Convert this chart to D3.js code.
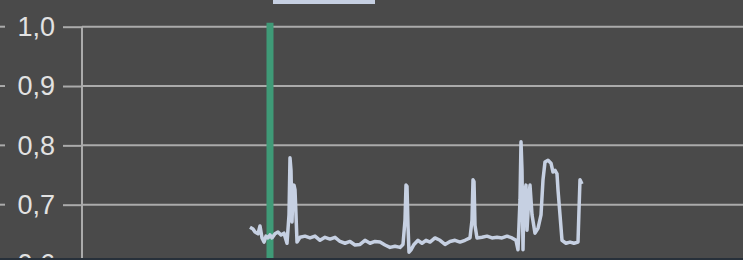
<!DOCTYPE html>
<html>
<head>
<meta charset="utf-8">
<script src="https://cdn.jsdelivr.net/npm/d3@7"></script>
<style>
    html, body { margin: 0; padding: 0; background: #4a4a4a; }
    svg { display: block; }
</style>
</head>
<body>
<svg id="chart" width="743" height="260"></svg>
<script>
// values (t = minutes, v = ratio)
var sample_t = [84, 85.5, 86.5, 88, 89, 90, 91, 92, 93, 94, 95, 96.5, 98, 99.5, 101, 102.5, 103.5, 104, 104.5, 105,
    105.5, 106, 106.5, 107, 107.5, 109, 111.5, 114, 116.5, 119, 121.5, 124, 126.5, 129, 131.5, 134, 136.5, 139, 141.5, 144,
    146.5, 149, 151.5, 154, 156.5, 159, 160.5, 161.5, 162, 162.5, 163, 163.5, 164.5, 166, 168, 170, 172, 174, 176.5, 179,
    181.5, 184, 186.5, 189, 191.5, 194, 195, 195.5, 196, 196.5, 197.5, 200, 202.5, 205, 207.5, 210, 212.5, 215, 217, 218,
    219, 219.5, 220, 220.5, 221, 222, 222.5, 223.5, 224, 225, 226.5, 228, 229.5, 230.5, 231.5, 233, 234.5, 235.5, 236.5, 237.5,
    238, 239, 240, 242, 244, 246, 248, 248.5, 249, 250];
var sample_v = [0.662, 0.659, 0.654, 0.651, 0.664, 0.644, 0.637, 0.647, 0.644, 0.649, 0.644, 0.651, 0.654, 0.649, 0.652, 0.635, 0.683, 0.779, 0.758, 0.671,
    0.725, 0.733, 0.725, 0.683, 0.637, 0.645, 0.647, 0.644, 0.647, 0.640, 0.645, 0.642, 0.645, 0.638, 0.635, 0.638, 0.632, 0.633, 0.640, 0.635,
    0.638, 0.637, 0.632, 0.628, 0.630, 0.628, 0.633, 0.674, 0.733, 0.731, 0.665, 0.620, 0.624, 0.633, 0.640, 0.635, 0.640, 0.637, 0.644, 0.640,
    0.633, 0.638, 0.640, 0.637, 0.640, 0.644, 0.674, 0.742, 0.739, 0.665, 0.644, 0.645, 0.647, 0.644, 0.645, 0.644, 0.647, 0.644, 0.640, 0.624,
    0.708, 0.806, 0.758, 0.624, 0.716, 0.733, 0.657, 0.716, 0.733, 0.683, 0.652, 0.660, 0.683, 0.742, 0.772, 0.775, 0.770, 0.755, 0.758, 0.752,
    0.725, 0.683, 0.640, 0.635, 0.637, 0.635, 0.637, 0.691, 0.742, 0.735];
var marker_t = 94;
var y_ticks = [0.6, 0.7, 0.8, 0.9, 1.0];

var line_color = "#c6d0e2", grid_color = "#ababab", text_color = "#e2e2e2";
var pad_left = 82, plot_top = 26.7;

var svg = d3.select("#chart");
var width = +svg.attr("width"), height = +svg.attr("height");

var x_scale = d3.scaleLinear().domain([0, 330]).range([pad_left, pad_left + 660]);
var y_scale = d3.scaleLinear().domain([0.5, 1.0]).range([plot_top + 593.3 * 0.5, plot_top]);
var fmt = d3.formatLocale({decimal: ",", thousands: ".", grouping: [3], currency: ["", " €"]}).format(".1f");

// legend swatch (mostly cut off at the top)
svg.append("rect")
    .attr("x", 273).attr("y", -20)
    .attr("width", 102).attr("height", 24)
    .attr("fill", line_color);

// horizontal grid
svg.append("g")
    .selectAll("line")
    .data(y_ticks)
    .enter().append("line")
    .attr("x1", pad_left).attr("x2", width)
    .attr("y1", function (d) { return y_scale(d); })
    .attr("y2", function (d) { return y_scale(d); })
    .attr("stroke", grid_color)
    .attr("stroke-width", 2);

// y axis
var y_axis = d3.axisLeft(y_scale).tickValues(y_ticks).tickFormat(fmt).tickSize(19).tickPadding(8);
var ax = svg.append("g")
    .attr("transform", "translate(" + pad_left + ",0)")
    .call(y_axis);
ax.select(".domain").remove();
ax.append("line")
    .attr("x1", 0).attr("x2", 0)
    .attr("y1", plot_top).attr("y2", height)
    .attr("stroke", grid_color).attr("stroke-width", 2);
ax.selectAll(".tick line").attr("stroke", grid_color).attr("stroke-width", 2);
ax.selectAll(".tick text")
    .attr("fill", text_color)
    .attr("font-family", "Liberation Sans, Arial, sans-serif")
    .attr("font-size", 27);

// little dashes at the far left
svg.append("g")
    .selectAll("line")
    .data(y_ticks)
    .enter().append("line")
    .attr("x1", 0).attr("x2", 5)
    .attr("y1", function (d) { return y_scale(d); })
    .attr("y2", function (d) { return y_scale(d); })
    .attr("stroke", grid_color)
    .attr("stroke-width", 2);

// green marker
svg.append("line")
    .attr("x1", x_scale(marker_t)).attr("x2", x_scale(marker_t))
    .attr("y1", plot_top - 4).attr("y2", height)
    .attr("stroke", "#3f9a77")
    .attr("stroke-width", 7);

// series
var points = sample_t.map(function (t, i) { return [t, sample_v[i]]; });
var line = d3.line()
    .x(function (d) { return x_scale(d[0]); })
    .y(function (d) { return y_scale(d[1]); });
svg.append("path")
    .datum(points)
    .attr("d", line)
    .attr("fill", "none")
    .attr("stroke", line_color)
    .attr("stroke-width", 3.5)
    .attr("stroke-linejoin", "round");

// dark strip at the bottom edge
svg.append("rect")
    .attr("x", 0).attr("y", height - 2)
    .attr("width", width).attr("height", 2)
    .attr("fill", "#27303a");
</script>
</body>
</html>
